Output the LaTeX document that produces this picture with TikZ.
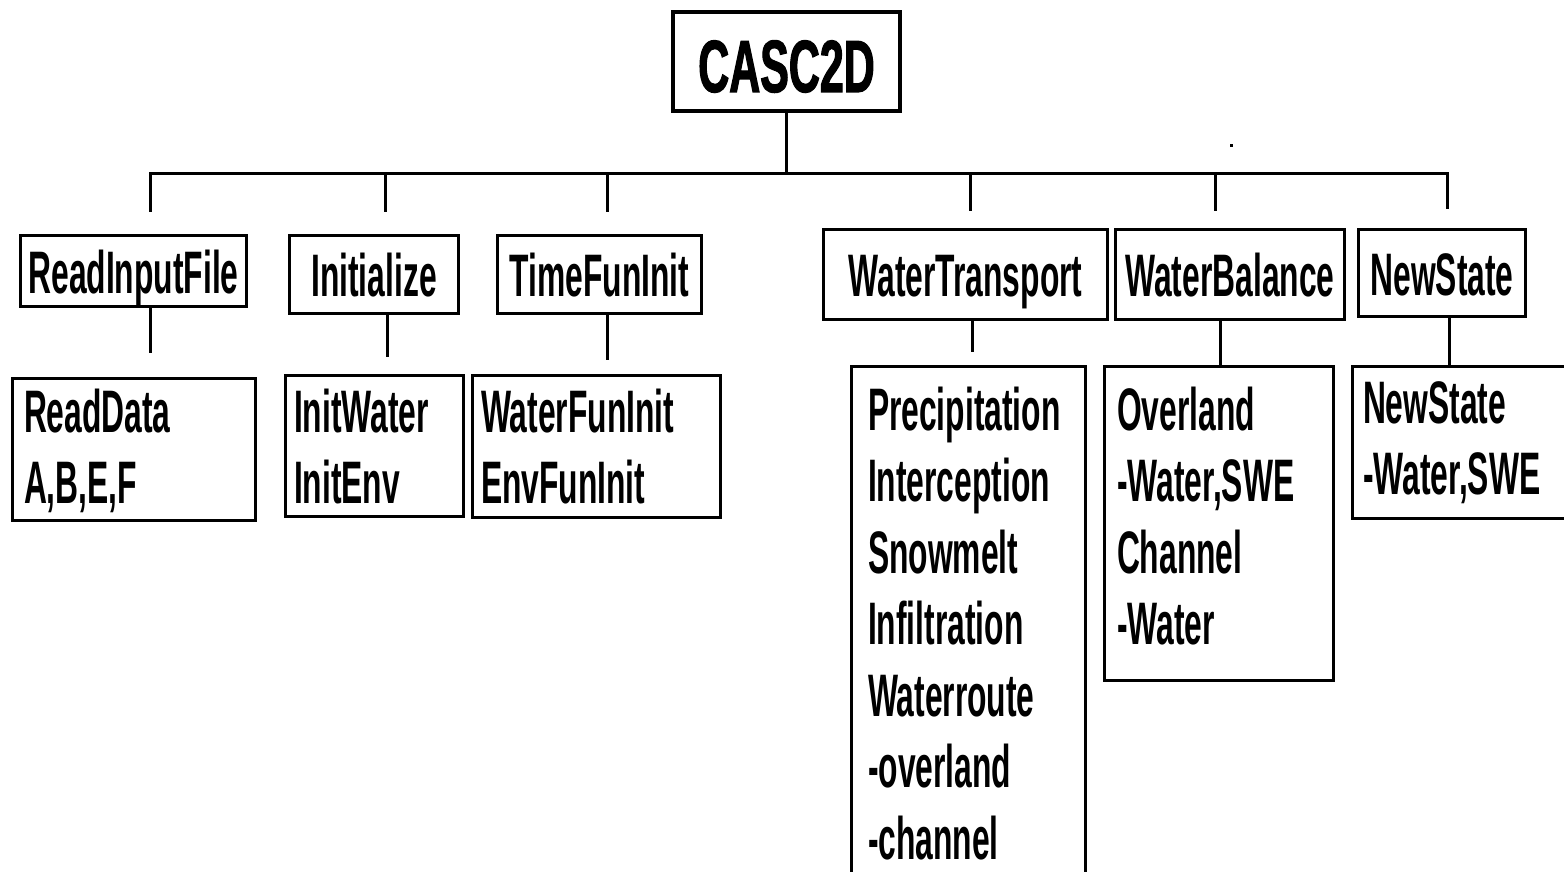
\documentclass[tikz,border=0pt]{standalone}
\usepackage{fontspec}
\usetikzlibrary{positioning}
\newfontfamily\rootfont{Liberation Sans}[FakeStretch=0.58, FakeBold=1.5]
\newfontfamily\boxfont{Liberation Sans}[FakeStretch=0.53]
\tikzstyle{rootbox} = [rectangle, draw=black, line width=4pt, minimum width=227pt, minimum height=99pt, inner sep=0pt, text height=61pt, text depth=0pt, font=\rootfont\bfseries\fontsize{74pt}{80pt}\selectfont]
\tikzstyle{branch} = [rectangle, draw=black, line width=3pt, inner sep=0pt, text centered, text height=44pt, text depth=0pt, anchor=north west, font=\boxfont\bfseries\fontsize{60pt}{71.5pt}\selectfont]
\tikzstyle{leaf} = [rectangle, draw=black, line width=3pt, inner ysep=0pt, align=left, anchor=north west, font=\boxfont\bfseries\fontsize{60pt}{71.5pt}\selectfont]
\tikzstyle{link} = [line width=3pt]

\begin{document}
\begin{tikzpicture}[x=1pt, y=1pt]
		\useasboundingbox (0,0) rectangle (1564,-872);
		\node (casc) [rootbox] at (786.5,-61.5) {CASC2D};
		% second row
		\node (readinput) [below=121pt of casc.south west, xshift=-652pt, branch, minimum width=226pt, minimum height=71pt] {ReadInputFile};
		\node (initialize) [right=40pt of readinput.north east, branch, minimum width=169pt, minimum height=78pt] {Initialize};
		\node (timefun) [right=36pt of initialize.north east, branch, minimum width=204pt, minimum height=78pt] {TimeFunInit};
		\node (watertrans) [right=119pt of timefun.north east, yshift=6pt, branch, minimum width=284pt, minimum height=90pt] {WaterTransport};
		\node (waterbal) [right=5pt of watertrans.north east, branch, minimum width=229pt, minimum height=90pt] {WaterBalance};
		\node (newstate) [right=11pt of waterbal.north east, branch, minimum width=167pt, minimum height=87pt] {NewState};
		% third row
		\node (readdata) [below=69pt of readinput.south west, xshift=-8pt, leaf, inner xsep=11.5pt, text width=220pt, text height=53.5pt, text depth=88.5pt] {ReadData\\A,B,E,F};
		\node (initwater) [below=59pt of initialize.south west, xshift=-4pt, leaf, inner xsep=8.5pt, text width=161pt, text height=56.5pt, text depth=84.5pt] {InitWater\\InitEnv};
		\node (waterfun) [below=59pt of timefun.south west, xshift=-25pt, leaf, inner xsep=8.5pt, text width=231pt, text height=56.5pt, text depth=85.5pt] {WaterFunInit\\EnvFunInit};
		\node (precip) [below=44pt of watertrans.south west, xshift=28pt, leaf, inner xsep=16.5pt, text width=201pt, text height=63.5pt, text depth=468.5pt] {Precipitation\\Interception\\Snowmelt\\Infiltration\\Waterroute\\-overland\\-channel};
		\node (overland) [below=44pt of waterbal.south west, xshift=-11pt, leaf, inner xsep=12.5pt, text width=204pt, text height=63.5pt, text depth=250.5pt] {Overland\\-Water,SWE\\Channel\\-Water};
		\node (newstatelist) [below=47pt of newstate.south west, xshift=-6pt, leaf, inner xsep=10.5pt, text width=215pt, text height=56.5pt, text depth=95.5pt] {NewState\\-Water,SWE};
		% connectors
		\coordinate (bus) at ([yshift=-61pt]casc.south);
		\draw [link] (casc) -- (bus);
		\draw [link, shorten >=22pt] (bus) -| ([xshift=16.5pt]readinput.north);
		\draw [link, shorten >=22pt] (bus) -| ([xshift=11pt]initialize.north);
		\draw [link, shorten >=22pt] (bus) -| ([xshift=7.5pt]timefun.north);
		\draw [link, shorten >=17pt] (bus) -| ([xshift=4.5pt]watertrans.north);
		\draw [link, shorten >=17pt] (bus) -| ([xshift=-15pt]waterbal.north);
		\draw [link, shorten >=19pt] (bus) -| ([xshift=5pt]newstate.north);
		\draw [link, shorten >=24pt] ([xshift=16.5pt]readinput.south) -- ([xshift=16.5pt]readinput.south |- readdata.north);
		\draw [link, shorten >=17pt] ([xshift=13pt]initialize.south) -- ([xshift=13pt]initialize.south |- initwater.north);
		\draw [link, shorten >=14pt] ([xshift=7.5pt]timefun.south) -- ([xshift=7.5pt]timefun.south |- waterfun.north);
		\draw [link, shorten >=13pt] ([xshift=6.5pt]watertrans.south) -- ([xshift=6.5pt]watertrans.south |- precip.north);
		\draw [link] ([xshift=-10pt]waterbal.south) -- ([xshift=-10pt]waterbal.south |- overland.north);
		\draw [link] ([xshift=7pt]newstate.south) -- ([xshift=7pt]newstate.south |- newstatelist.north);
		\fill (1230,-144) rectangle (1233,-147);
	\end{tikzpicture}
\end{document}
